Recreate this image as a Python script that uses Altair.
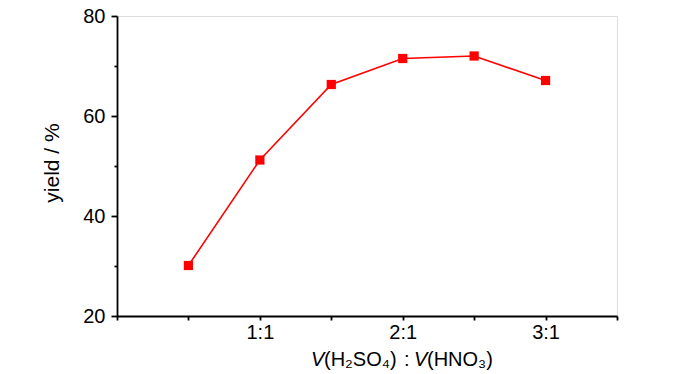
import altair as alt
import pandas as pd

# ---- data ----
ratio = [0.5, 1.0, 1.5, 2.0, 2.5, 3.0]
yield_pct = [30.1, 51.2, 66.3, 71.5, 72.0, 67.1]

x_tick_values = [0, 0.5, 1, 1.5, 2, 2.5, 3, 3.5]
x_tick_labels = {1: "1:1", 2: "2:1", 3: "3:1"}
y_tick_values = [20, 30, 40, 50, 60, 70, 80]
y_major = [20, 40, 60, 80]
y_title = "yield / %"
x_title_parts = ["V", "(H₂SO₄)", ":", "V", "(HNO₃)"]
x_title_styles = ["italic", "normal", "normal", "italic", "normal"]

df = pd.DataFrame({"ratio": ratio, "yield": yield_pct})

FONT = "Liberation Sans, Arial, sans-serif"
RED = "#ff0000"

x_label_expr = " : ".join(
    [f"datum.value == {k} ? '{v}'" for k, v in x_tick_labels.items()]
) + " : ''"
major_test = " || ".join([f"datum.value == {v}" for v in y_major])
y_label_expr = f"({major_test}) ? datum.label : ''"
y_tick_size = {"condition": {"test": f"({major_test})", "value": 6}, "value": 3}

x_enc = alt.X(
    "ratio:Q",
    scale=alt.Scale(domain=[0, 3.5], nice=False, zero=False),
    axis=alt.Axis(
        values=x_tick_values,
        labelExpr=x_label_expr,
        title=None,
        grid=False,
        domainColor="black",
        domainWidth=1.8,
        tickColor="black",
        tickWidth=1.8,
        tickSize=4,
        labelPadding=2,
        labelFont=FONT,
        labelFontSize=20,
        labelColor="black",
        labelFlush=False,
    ),
)
y_enc = alt.Y(
    "yield:Q",
    scale=alt.Scale(domain=[20, 80], nice=False, zero=False),
    axis=alt.Axis(
        values=y_tick_values,
        labelExpr=y_label_expr,
        title=y_title,
        titleFont=FONT,
        titleFontSize=21,
        titleFontWeight="normal",
        titleColor="black",
        titleAngle=270,
        titleX=-59,
        titleY=146.5,
        titleAlign="center",
        titleBaseline="alphabetic",
        grid=False,
        domainColor="black",
        domainWidth=1.8,
        tickColor="black",
        tickWidth=1.8,
        tickSize=y_tick_size,
        labelPadding=6,
        labelFont=FONT,
        labelFontSize=20,
        labelColor="black",
        labelFlush=False,
    ),
)

line = alt.Chart(df).mark_line(color=RED, strokeWidth=1.6).encode(x=x_enc, y=y_enc)
pts = alt.Chart(df).mark_point(
    shape="square", filled=True, size=85, color=RED, opacity=1
).encode(x="ratio:Q", y="yield:Q")

# x-axis title made of pieces (italic V, normal rest), left-aligned at their spots
title_y = 350
piece_x = [194, 207, 287, 297, 310]
title_layers = []
for txt, style, px in zip(x_title_parts, x_title_styles, piece_x):
    title_layers.append(
        alt.Chart(alt.Data(values=[{}]))
        .mark_text(
            font=FONT,
            fontSize=20,
            fontStyle=style,
            align="left",
            baseline="alphabetic",
            color="black",
        )
        .encode(x=alt.value(px), y=alt.value(title_y), text=alt.value(txt))
    )

chart = (
    alt.layer(line, pts, *title_layers)
    .properties(
        width=500,
        height=300,
        autosize=alt.AutoSizeParams(type="none"),
        padding={"left": 109, "top": 8, "right": 75, "bottom": 58},
    )
    .configure_view(stroke=None)
    .configure(background="white")
)

chart.save("out.html", embed_options={"renderer": "svg", "actions": False})
